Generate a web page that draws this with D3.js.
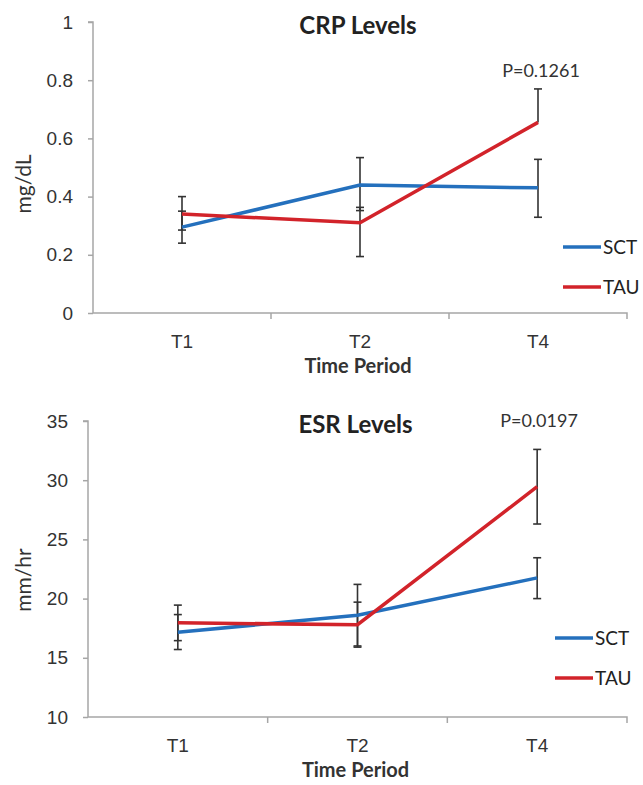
<!DOCTYPE html>
<html>
<head>
<meta charset="utf-8">
<script src="https://cdn.jsdelivr.net/npm/d3@7"></script>
<style>
  html, body { margin: 0; padding: 0; background: #fff; }
  svg { display: block; font-family: Lato, "Open Sans", sans-serif; }
  .axis path, .axis line { stroke: #a6a6a6; stroke-width: 1.5; }
  .axis text { fill: #333; font-size: 19px; }
  .title { font-weight: bold; font-size: 24px; fill: #222; }
  .xlabel { font-weight: bold; font-size: 20px; fill: #333; }
  .ylabel { font-size: 21px; fill: #333; }
  .pval { font-size: 18px; fill: #333; }
  .legend text { font-size: 19px; fill: #222; }
  .err { stroke: #333; stroke-width: 1.6; fill: none; }
  .series { fill: none; stroke-width: 3.5; }
</style>
</head>
<body>
<svg id="chart" width="643" height="785"></svg>
<script>
const CATEGORIES = ["T1", "T2", "T4"];
const SERIES = ["SCT", "TAU"];

// CRP (mg/dL)
const CRP_SCT = [0.295, 0.44, 0.43];
const CRP_SCT_LOW = [0.24, 0.352, 0.329];
const CRP_SCT_HIGH = [0.35, 0.534, 0.528];
const CRP_TAU = [0.34, 0.31, 0.655];
const CRP_TAU_LOW = [0.285, 0.194, 0.655];
const CRP_TAU_HIGH = [0.40, 0.363, 0.77];
const CRP_TICKS = [0, 0.2, 0.4, 0.6, 0.8, 1];

// ESR (mm/hr)
const ESR_SCT = [17.15, 18.6, 21.75];
const ESR_SCT_LOW = [15.7, 16.0, 20.0];
const ESR_SCT_HIGH = [18.65, 21.2, 23.45];
const ESR_TAU = [17.95, 17.8, 29.45];
const ESR_TAU_LOW = [16.45, 15.9, 26.3];
const ESR_TAU_HIGH = [19.45, 19.7, 32.6];
const ESR_TICKS = [10, 15, 20, 25, 30, 35];

const color = d3.scaleOrdinal().domain(SERIES).range(["#2470bd", "#d2232a"]);
const svg = d3.select("#chart");

const panels = [
  {
    title: "CRP Levels", ylabel: "mg/dL", pval: "P=0.1261",
    domain: [0, 1], ticks: CRP_TICKS, fmt: d => d === 0 || d === 1 ? d : d.toFixed(1),
    x0: 93, x1: 627, yTop: 22, yBottom: 313,
    titleY: 34, pY: 77, pX: 541, legendX: 563, legendY: 247, ylabelY: 184,
    sct: [CRP_SCT, CRP_SCT_LOW, CRP_SCT_HIGH], tau: [CRP_TAU, CRP_TAU_LOW, CRP_TAU_HIGH]
  },
  {
    title: "ESR Levels", ylabel: "mm/hr", pval: "P=0.0197",
    domain: [10, 35], ticks: ESR_TICKS, fmt: d => d,
    x0: 88, x1: 627, yTop: 421, yBottom: 717,
    titleY: 433, pY: 427, pX: 539, legendX: 555, legendY: 638, ylabelY: 580,
    sct: [ESR_SCT, ESR_SCT_LOW, ESR_SCT_HIGH], tau: [ESR_TAU, ESR_TAU_LOW, ESR_TAU_HIGH]
  }
];

panels.forEach(drawPanel);

function drawPanel(p) {
  const g = svg.append("g");
  const x = d3.scaleBand().domain(CATEGORIES).range([p.x0, p.x1]).padding(0);
  const y = d3.scaleLinear().domain(p.domain).range([p.yBottom, p.yTop]);

  // axes
  g.append("g")
    .attr("class", "axis")
    .attr("transform", `translate(${p.x0},0)`)
    .call(d3.axisLeft(y).tickValues(p.ticks).tickFormat(p.fmt).tickSize(5).tickPadding(15))
    .call(a => a.select(".domain").attr("d", `M-5,${p.yTop}H0V${p.yBottom}`));

  const xAxis = g.append("g")
    .attr("class", "axis")
    .attr("transform", `translate(0,${p.yBottom})`)
    .call(d3.axisBottom(x).tickSize(0).tickPadding(22));
  xAxis.select(".domain").attr("d", `M${p.x0},0H${p.x1}V6`);
  xAxis.selectAll(".bound")
    .data(CATEGORIES.slice(1))
    .join("line")
    .attr("x1", d => x(d)).attr("x2", d => x(d))
    .attr("y1", 0).attr("y2", 6);

  // error bars
  const rows = [];
  SERIES.forEach(s => {
    const [mean, low, high] = s === "SCT" ? p.sct : p.tau;
    CATEGORIES.forEach((c, i) => rows.push({ s, c, mean: mean[i], low: low[i], high: high[i] }));
  });
  const cx = c => x(c) + x.bandwidth() / 2;

  const eb = g.append("g").attr("class", "err");
  eb.selectAll(".stem").data(rows).join("line")
    .attr("x1", d => cx(d.c)).attr("x2", d => cx(d.c))
    .attr("y1", d => y(d.low)).attr("y2", d => y(d.high));
  eb.selectAll(".cap").data(rows.flatMap(d => [
      { c: d.c, v: d.high },
      ...(d.low !== d.mean ? [{ c: d.c, v: d.low }] : [])
    ])).join("line")
    .attr("x1", d => cx(d.c) - 4).attr("x2", d => cx(d.c) + 4)
    .attr("y1", d => y(d.v)).attr("y2", d => y(d.v));

  // lines
  const line = d3.line().x(d => cx(d.c)).y(d => y(d.mean));
  SERIES.forEach(s => {
    g.append("path")
      .attr("class", "series")
      .attr("stroke", color(s))
      .attr("d", line(rows.filter(r => r.s === s)));
  });

  // texts
  g.append("text").attr("class", "title")
    .attr("x", (p.x0 + p.x1) / 2 - 2).attr("y", p.titleY)
    .attr("text-anchor", "middle").text(p.title);
  g.append("text").attr("class", "pval")
    .attr("x", p.pX).attr("y", p.pY)
    .attr("text-anchor", "middle").text(p.pval);
  g.append("text").attr("class", "xlabel")
    .attr("x", (p.x0 + p.x1) / 2 - 2).attr("y", p.yBottom + 60)
    .attr("text-anchor", "middle").text("Time Period");
  g.append("text").attr("class", "ylabel")
    .attr("transform", `translate(31,${p.ylabelY}) rotate(-90)`)
    .attr("text-anchor", "middle").text(p.ylabel);

  // legend
  const lg = g.append("g").attr("class", "legend");
  SERIES.forEach((s, i) => {
    const ly = p.legendY + i * 40;
    lg.append("line")
      .attr("x1", p.legendX).attr("x2", p.legendX + 38)
      .attr("y1", ly).attr("y2", ly)
      .attr("stroke", color(s)).attr("stroke-width", 3.5);
    lg.append("text")
      .attr("x", p.legendX + 40).attr("y", ly + 7)
      .text(s);
  });
}
</script>
</body>
</html>
